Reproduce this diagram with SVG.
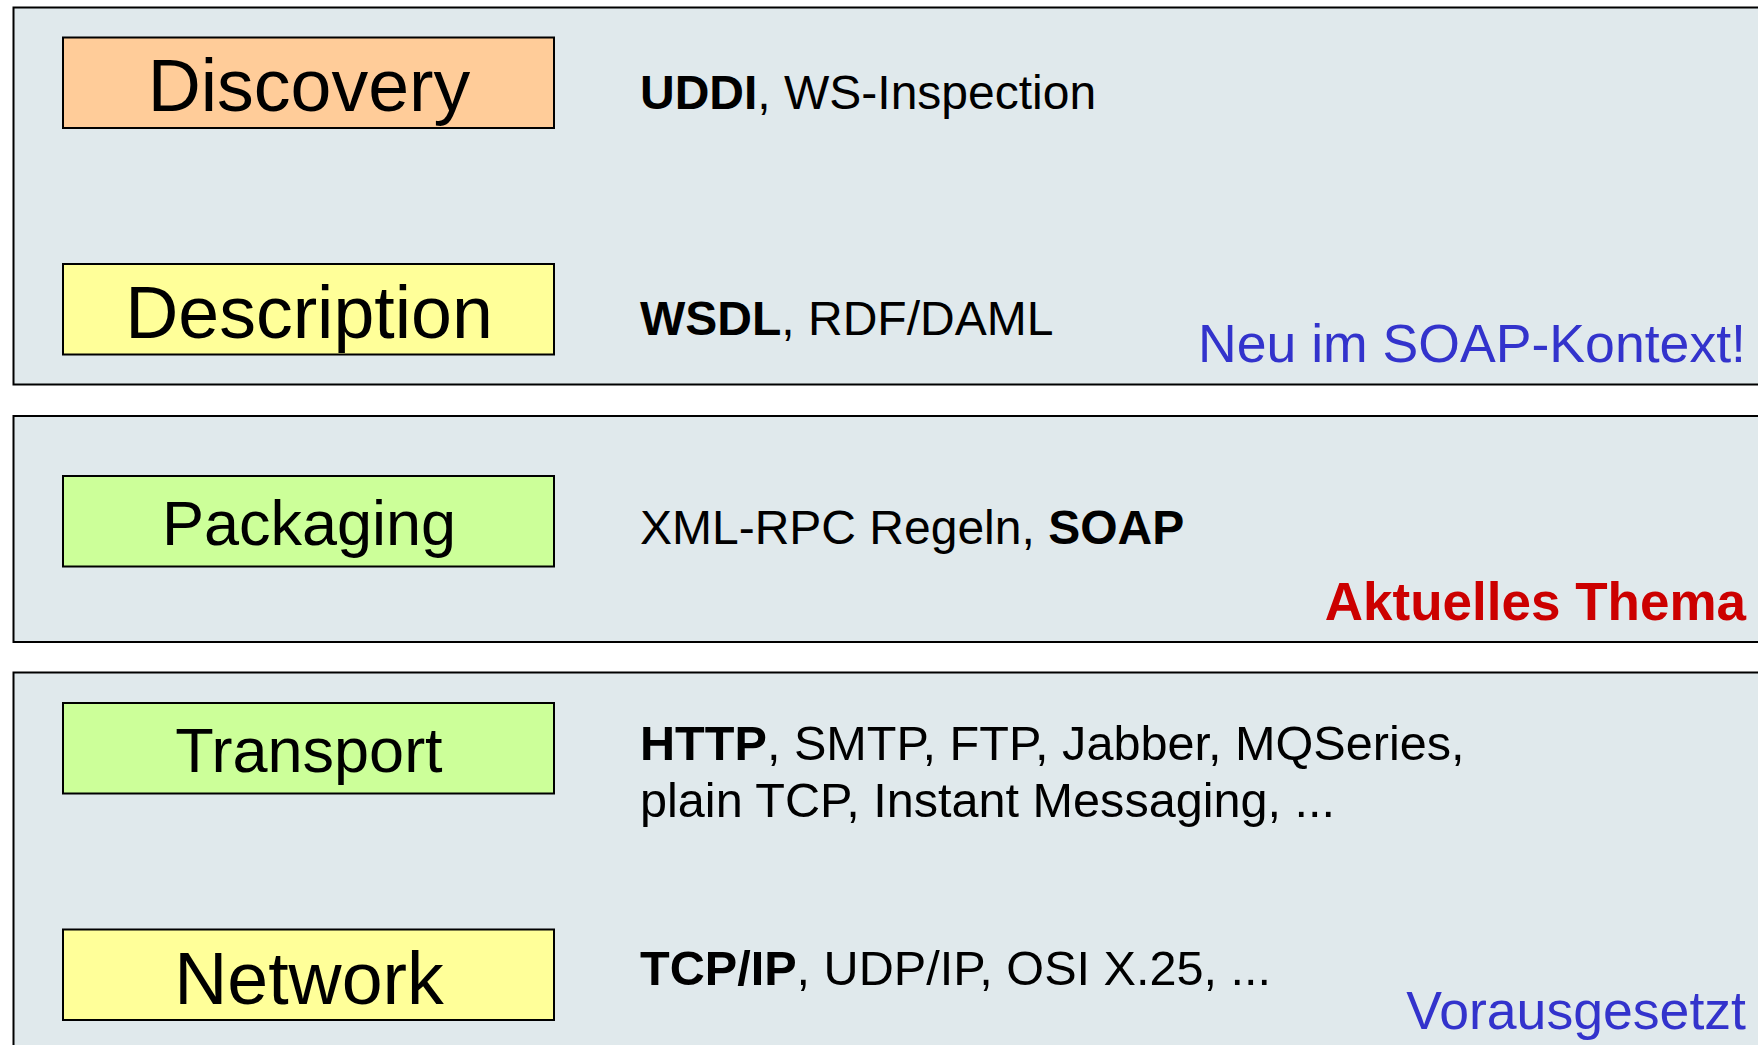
<svg xmlns="http://www.w3.org/2000/svg" width="1758" height="1045" viewBox="0 0 1758 1045">
<style>
.panel{fill:#E0E9EC;stroke:#000;stroke-width:2}
.box{stroke:#000;stroke-width:2}
.orange{fill:#FFCC99}
.yellow{fill:#FFFF99}
.green{fill:#CCFF99}
.lbl{font-family:"Liberation Sans",Arial,sans-serif;text-anchor:middle;fill:#000}
.big{font-size:73.5px}
.mid{font-size:63px}
.txt{font-family:"Liberation Sans",Arial,sans-serif;font-size:48px;fill:#000}
.txt2{font-size:48.6px}
.b{font-weight:bold}
.note{font-family:"Liberation Sans",Arial,sans-serif;text-anchor:end}
.blue{fill:#3333CC;font-size:53.6px}
.red{fill:#CC0000;font-size:53px;font-weight:bold}
</style>
<rect width="1758" height="1045" fill="#FFFFFF"/>
<g id="panels">
<rect id="panel-top" class="panel" x="13.5" y="7.5" width="1760" height="377"/>
<rect id="panel-middle" class="panel" x="13.5" y="416" width="1760" height="226"/>
<rect id="panel-bottom" class="panel" x="13.5" y="672.5" width="1760" height="400"/>
</g>
<g id="connectors"></g>
<g id="discovery">
<rect class="box orange" x="63" y="37.5" width="491" height="90.5"/>
<text class="lbl big" x="309" y="111">Discovery</text>
</g>
<g id="description">
<rect class="box yellow" x="63" y="264" width="491" height="90.5"/>
<text class="lbl big" x="309" y="337.5">Description</text>
</g>
<g id="packaging">
<rect class="box green" x="63" y="476" width="491" height="90.5"/>
<text class="lbl mid" x="309" y="545">Packaging</text>
</g>
<g id="transport">
<rect class="box green" x="63" y="703" width="491" height="90.5"/>
<text class="lbl mid" x="309" y="771.5">Transport</text>
</g>
<g id="network">
<rect class="box yellow" x="63" y="929.5" width="491" height="90.5"/>
<text class="lbl big" x="309" y="1003.5">Network</text>
</g>
<g id="texts">
<text class="txt" x="640" y="109"><tspan class="b">UDDI</tspan>, WS-Inspection</text>
<text class="txt" x="640" y="334.5"><tspan class="b">WSDL</tspan>, RDF/DAML</text>
<text class="txt" x="640" y="543.5">XML-RPC Regeln, <tspan class="b">SOAP</tspan></text>
<text class="txt txt2" x="640" y="759.5"><tspan class="b">HTTP</tspan>, SMTP, FTP, Jabber, MQSeries,</text>
<text class="txt txt2" x="640" y="817">plain TCP, Instant Messaging, ...</text>
<text class="txt txt2" x="640" y="985"><tspan class="b">TCP/IP</tspan>, UDP/IP, OSI X.25, ...</text>
<text class="note blue" x="1746" y="361.5">Neu im SOAP-Kontext!</text>
<text class="note red" x="1746" y="620">Aktuelles Thema</text>
<text class="note blue" x="1746" y="1028.5">Vorausgesetzt</text>
</g>
</svg>
